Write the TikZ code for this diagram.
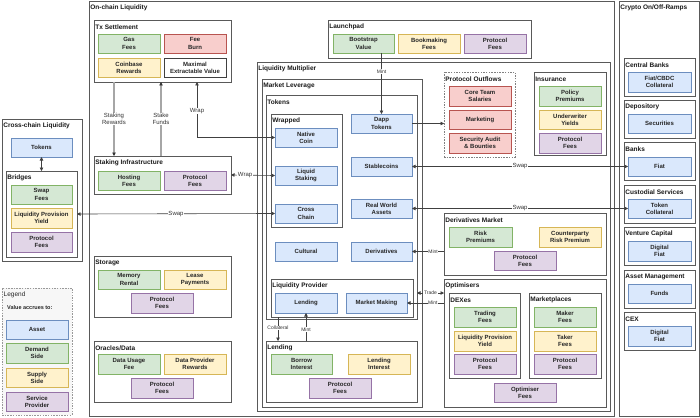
\documentclass[tikz,border=0pt]{standalone}
\usepackage{fontspec}
\setmainfont{Liberation Sans}
\usetikzlibrary{arrows.meta,calc}
\definecolor{bluef}{HTML}{DAE8FC}\definecolor{blued}{HTML}{6C8EBF}
\definecolor{greenf}{HTML}{D5E8D4}\definecolor{greend}{HTML}{82B366}
\definecolor{yelf}{HTML}{FFF2CC}\definecolor{yeld}{HTML}{D6B656}
\definecolor{redf}{HTML}{F8CECC}\definecolor{redd}{HTML}{B85450}
\definecolor{purf}{HTML}{E1D5E7}\definecolor{purd}{HTML}{9673A6}
\definecolor{legf}{HTML}{F7F7F7}
\newcommand\bx[7]{\node[#1, minimum width={(#5)-(#3)}, minimum height={(#6)-(#4)}] (#2) at ({((#3)+(#5))/2},{((#4)+(#6))/2}) {#7};}
\newcommand\ct[7]{\bx{#1}{#2}{#3}{#4}{#5}{#6}{}\node[ttl] (#2-t) at ({(#3)+1.2},{(#4)+7}) {#7};}
\tikzset{
 base/.style={rectangle, inner sep=0pt, outer sep=0pt, align=center, font=\fontsize{6}{7.2}\selectfont\bfseries, text=black!85, line width=0.7pt},
 asset/.style={base, fill=bluef, draw=blued},
 demand/.style={base, fill=greenf, draw=greend},
 supply/.style={base, fill=yelf, draw=yeld},
 outflow/.style={base, fill=redf, draw=redd},
 service/.style={base, fill=purf, draw=purd},
 plainbox/.style={base, fill=white, draw=black!75},
 cont/.style={rectangle, inner sep=0pt, outer sep=0pt, fill=white, draw=black!65, line width=0.8pt},
 dashcont/.style={cont, dashed, dash pattern=on 1.5pt off 1.2pt, draw=black!50},
 legcont/.style={cont, fill=legf, dash pattern=on 1.5pt off 1.2pt, draw=black!40},
 ttl/.style={font=\fontsize{6.5}{7.5}\selectfont\bfseries, inner sep=0pt, anchor=west, text=black!90},
 tip/.tip={Triangle[length=3.5pt,width=3.5pt]},
 conn/.style={draw=black!75, line width=0.6pt, -tip},
 conn2/.style={draw=black!75, line width=0.6pt, tip-tip},
 grayconn/.style={draw=black!35, line width=1.3pt, -{Triangle[length=3.5pt,width=3.5pt,color=black!80]}},
 lbl/.style={font=\fontsize{6}{7}\selectfont, fill=white, inner sep=0.6pt, align=center, text=black!80},
 mlbl/.style={lbl, font=\fontsize{5}{6}\selectfont}
}
\begin{document}
\begin{tikzpicture}[x=1pt,y=-1pt]
\useasboundingbox (0,0) rectangle (700,417);
% outer containers
\ct{cont}{onchain}{89}{1}{614}{416}{On-chain Liquidity}
\ct{cont}{ramps}{619}{1}{699}{416}{Crypto On/Off-Ramps}
% Tx settlement
\ct{cont}{txs}{94}{20}{231}{82}{Tx Settlement}
\bx{demand}{gas}{98}{34}{160}{53}{Gas\\Fees}
\bx{outflow}{burn}{164}{34}{226}{53}{Fee\\Burn}
\bx{supply}{coinb}{98}{58}{160}{77}{Coinbase\\Rewards}
\bx{plainbox}{mev}{164}{58}{226}{77}{Maximal\\Extractable Value}
% Staking
\ct{cont}{stk}{94}{156}{231}{194}{Staking Infrastructure}
\bx{demand}{host}{98}{171}{160}{190}{Hosting\\Fees}
\bx{service}{stkpf}{164}{171}{226}{190}{Protocol\\Fees}
% Cross-chain
\ct{cont}{ccl}{2}{119}{82}{261}{Cross-chain Liquidity}
\bx{asset}{ctok}{11}{138}{72}{157}{Tokens}
\ct{cont}{br}{6}{171}{77}{257}{Bridges}
\bx{demand}{swf}{11}{185}{72}{204}{Swap\\Fees}
\bx{supply}{brlpy}{11}{208}{72}{228}{Liquidity Provision\\Yield}
\bx{service}{brpf}{11}{232}{72}{252}{Protocol\\Fees}
% Storage
\ct{cont}{sto}{94}{256}{231}{317}{Storage}
\bx{demand}{mem}{98}{270}{160}{289}{Memory\\Rental}
\bx{supply}{lease}{164}{270}{226}{289}{Lease\\Payments}
\bx{service}{stopf}{131}{293}{193}{313}{Protocol\\Fees}
% Oracles
\ct{cont}{ora}{94}{341}{231}{402}{Oracles/Data}
\bx{demand}{dug}{98}{354}{160}{374}{Data Usage\\Fee}
\bx{supply}{dpr}{164}{354}{226}{374}{Data Provider\\Rewards}
\bx{service}{orpf}{131}{378}{193}{398}{Protocol\\Fees}
% Legend
\bx{legcont}{leg}{2}{288}{72}{415}{}
\node[inner sep=0pt, anchor=west, font=\fontsize{6.5}{7.5}\selectfont, text=black!85] (leg-t) at (3.5,295) {Legend};
\node[inner sep=0pt, anchor=west, font=\fontsize{5.5}{6.5}\selectfont\bfseries, text=black!85] (leg-v) at (7,308) {Value accrues to:};
\bx{asset}{lasset}{6}{320}{68}{339}{Asset}
\bx{demand}{ldem}{6}{343}{68}{363}{Demand\\Side}
\bx{supply}{lsup}{6}{368}{68}{387}{Supply\\Side}
\bx{service}{lserv}{6}{392}{68}{411}{Service\\Provider}
% Launchpad
\ct{cont}{lpad}{328}{20}{531}{58}{Launchpad}
\bx{demand}{bv}{333}{34}{394}{53}{Bootstrap\\Value}
\bx{supply}{bmf}{398}{34}{460}{53}{Bookmaking\\Fees}
\bx{service}{lppf}{464}{34}{526}{53}{Protocol\\Fees}
% Liquidity multiplier
\ct{cont}{lm}{257}{62}{610}{411}{Liquidity Multiplier}
\ct{cont}{ml}{262}{79}{422}{407}{Market Leverage}
\ct{cont}{tok}{266}{95}{417}{319}{Tokens}
\ct{cont}{wr}{271}{114}{342}{227}{Wrapped}
\bx{asset}{nc}{275}{128}{337}{147}{Native\\Coin}
\bx{asset}{ls}{275}{166}{337}{185}{Liquid\\Staking}
\bx{asset}{cch}{275}{204}{337}{223}{Cross\\Chain}
\bx{asset}{dapp}{351}{114}{412}{133}{Dapp\\Tokens}
\bx{asset}{sc}{351}{157}{412}{176}{Stablecoins}
\bx{asset}{rwa}{351}{199}{412}{218}{Real World\\Assets}
\bx{asset}{cult}{275}{242}{337}{261}{Cultural}
\bx{asset}{der}{351}{242}{412}{261}{Derivatives}
\ct{cont}{lp}{271}{279}{413}{317}{Liquidity Provider}
\bx{asset}{lpl}{275}{293}{337}{313}{Lending}
\bx{asset}{mm}{346}{293}{407}{313}{Market Making}
\ct{cont}{lend}{266}{341}{417}{402}{Lending}
\bx{demand}{bi}{271}{354}{332}{374}{Borrow\\Interest}
\bx{supply}{li}{348}{354}{410}{374}{Lending\\Interest}
\bx{service}{lnpf}{309}{378}{371}{398}{Protocol\\Fees}
% Protocol outflows
\ct{dashcont}{po}{444}{72}{515}{157}{Protocol Outflows}
\bx{outflow}{cts}{449}{86}{511}{106}{Core Team\\Salaries}
\bx{outflow}{mkt}{449}{110}{511}{129}{Marketing}
\bx{outflow}{sec}{449}{133}{511}{153}{Security Audit\\\& Bounties}
% Insurance
\ct{cont}{ins}{534}{72}{606}{155}{Insurance}
\bx{demand}{pp}{539}{86}{601}{106}{Policy\\Premiums}
\bx{supply}{uy}{539}{110}{601}{129}{Underwriter\\Yields}
\bx{service}{inpf}{539}{133}{601}{153}{Protocol\\Fees}
% Derivatives market
\ct{cont}{dm}{444}{213}{606}{275}{Derivatives Market}
\bx{demand}{rp}{449}{227}{512}{247}{Risk\\Premiums}
\bx{supply}{crp}{539}{227}{601}{247}{Counterparty\\Risk Premium}
\bx{service}{dmpf}{494}{251}{556}{270}{Protocol\\Fees}
% Optimisers
\ct{cont}{opt}{444}{279}{606}{407}{Optimisers}
\ct{cont}{dex}{449}{293}{520}{378}{DEXes}
\bx{demand}{tf}{454}{307}{516}{327}{Trading\\Fees}
\bx{supply}{dxlpy}{454}{331}{516}{351}{Liquidity Provision\\Yield}
\bx{service}{dxpf}{454}{354}{516}{374}{Protocol\\Fees}
\ct{cont}{mp}{529}{293}{601}{378}{Marketplaces}
\bx{demand}{maker}{534}{307}{596}{327}{Maker\\Fees}
\bx{supply}{taker}{534}{331}{596}{351}{Taker\\Fees}
\bx{service}{mppf}{534}{354}{596}{374}{Protocol\\Fees}
\bx{service}{optf}{494}{383}{556}{402}{Optimiser\\Fees}
% Ramps
\ct{cont}{cb}{624}{58}{695}{96}{Central Banks}
\bx{asset}{fcc}{628}{72}{691}{92}{Fiat/CBDC\\Collateral}
\ct{cont}{dep}{624}{100}{695}{138}{Depository}
\bx{asset}{secu}{628}{114}{691}{133}{Securities}
\ct{cont}{banks}{624}{142}{695}{180}{Banks}
\bx{asset}{fiat}{628}{157}{691}{176}{Fiat}
\ct{cont}{cust}{624}{185}{695}{223}{Custodial Services}
\bx{asset}{tcol}{628}{199}{691}{218}{Token\\Collateral}
\ct{cont}{vc}{624}{227}{695}{265}{Venture Capital}
\bx{asset}{df1}{628}{241}{691}{261}{Digital\\Fiat}
\ct{cont}{am}{624}{270}{695}{308}{Asset Management}
\bx{asset}{funds}{628}{284}{691}{303}{Funds}
\ct{cont}{cex}{624}{312}{695}{350}{CEX}
\bx{asset}{df2}{628}{326}{691}{346}{Digital\\Fiat}
% connectors
\draw[grayconn] ([xshift=20pt]txs.south west) -- ([xshift=20pt]stk.north west) node[lbl,pos=0.5]{Staking\\Rewards};
\draw[grayconn] ([xshift=67pt]stk.north west) -- ([xshift=67pt]txs.south west) node[lbl,pos=0.5]{Stake\\Funds};
\draw[conn2] (nc.west) -| ([xshift=103pt]txs.south west) node[lbl,pos=0.74]{Wrap};
\draw[conn2] (stk.east) -- (ls.west) node[lbl,pos=0.32]{Wrap};
\draw[conn2] (br.east) -- (cch.west) node[lbl,midway]{Swap};
\draw[conn2] (ctok.south) -- (br.north);
\draw[conn2] (sc.east) -- (fiat.west) node[lbl,midway]{Swap};
\draw[conn2] (rwa.east) -- (tcol.west) node[lbl,midway]{Swap};
\draw[conn] (dapp.east) -- (dapp.east -| po.west);
\draw[conn] (dapp.north |- bv.south) -- (dapp.north) node[mlbl,pos=0.3]{Mint};
\draw[conn] (der.east -| dm.west) -- (der.east) node[mlbl,pos=0.34]{Mint};
\coordinate (trd) at ([yshift=-14pt]opt.north west);
\draw[conn2] (trd -| tok.east) -- (trd) node[mlbl,midway]{Trade};
\draw[conn] (mm.east -| opt.west) -- (mm.east) node[mlbl,pos=0.3]{Mint};
\coordinate (colt) at ([xshift=7pt]lp.south west);
\draw[conn] (colt) -- (colt |- lend.north) node[mlbl,pos=0.46]{Collateral};
\draw[conn] (lpl.south |- lend.north) -- (lpl.south) node[mlbl,pos=0.4]{Mint};
\end{tikzpicture}
\end{document}
